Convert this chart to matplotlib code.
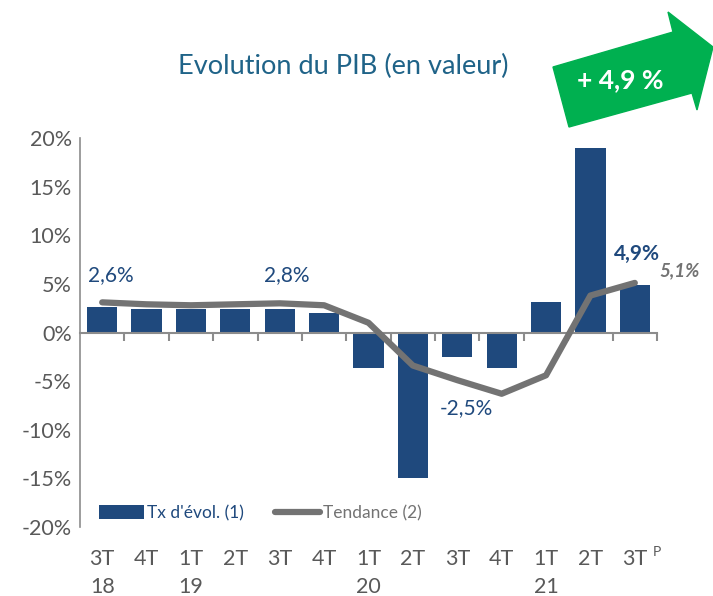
import matplotlib.pyplot as plt
from matplotlib.patches import Polygon
import numpy as np

plt.rcParams['font.family'] = ['Lato', 'DejaVu Sans']

quarters = ["3T", "4T", "1T", "2T", "3T", "4T", "1T", "2T", "3T", "4T", "1T", "2T", "3T"]
years = ["18", "", "19", "", "", "", "20", "", "", "", "21", "", ""]
tx_evol = [2.6, 2.4, 2.4, 2.4, 2.4, 2.0, -3.7, -15.0, -2.5, -3.6, 3.1, 19.0, 4.9]
tendance = [3.1, 2.9, 2.8, 2.9, 3.0, 2.8, 1.0, -3.4, -4.9, -6.3, -4.4, 3.8, 5.1]

blue = "#1f497d"
grey = "#737373"
text_grey = "#595959"

fig = plt.figure(figsize=(7.13, 5.96), dpi=100)
ax = fig.add_axes([80 / 713, 1 - 527 / 596, 577 / 713, 389 / 596])

x = np.arange(len(quarters))
bars = ax.bar(x, tx_evol, width=0.68, color=blue, zorder=2)
line, = ax.plot(x, tendance, color=grey, lw=4.5, solid_capstyle='round',
                solid_joinstyle='round', zorder=3)

ax.set_xlim(-0.5, len(quarters) - 0.5)
ax.set_ylim(-20, 20)
ax.set_yticks(np.arange(-20, 21, 5))
ax.set_yticklabels([f"{v}%" for v in range(-20, 21, 5)], fontsize=15.5, color=text_grey)
ax.tick_params(axis='y', length=0, pad=6)

for s in ['top', 'right']:
    ax.spines[s].set_visible(False)
ax.spines['left'].set_color("#8c8c8c")
ax.spines['left'].set_linewidth(1.2)
ax.spines['bottom'].set_position(('data', 0))
ax.spines['bottom'].set_color("#8c8c8c")
ax.spines['bottom'].set_linewidth(1.5)
ax.set_xticks(np.arange(0.5, len(quarters), 1.0))
ax.set_xticklabels([])
ax.tick_params(axis='x', direction='out', length=6, width=1.5, color="#8c8c8c")

# category labels below the plot
for i, (q, yr) in enumerate(zip(quarters, years)):
    ax.text(i, -23.3, q, ha='center', va='center', fontsize=15.5, color=text_grey)
    if yr:
        ax.text(i, -26.2, yr, ha='center', va='center', fontsize=15.5, color=text_grey)
ax.text(12.5, -22.6, "P", ha='center', va='center', fontsize=10, color=text_grey)

# data labels
ax.text(0.2, 5.9, "2,6%", ha='center', va='center', fontsize=15, color=blue)
ax.text(4.15, 5.9, "2,8%", ha='center', va='center', fontsize=15, color=blue)
ax.text(8.2, -7.8, "-2,5%", ha='center', va='center', fontsize=15, color=blue)
ax.text(12.05, 8.1, "4,9%", ha='center', va='center', fontsize=15, color=blue, fontweight='bold')
ax.text(13.0, 6.3, "5,1%", ha='center', va='center', fontsize=13.5, color=grey,
        fontweight='bold', fontstyle='italic', clip_on=False)

leg = ax.legend([bars, line], ["Tx d'évol. (1)", "Tendance (2)"], loc='lower left',
                bbox_to_anchor=(0.006, -0.025), ncol=2, frameon=False,
                fontsize=12.5, handlelength=2.6, handleheight=0.9, handletextpad=0.15,
                columnspacing=1.8)
for txt, c in zip(leg.get_texts(), [blue, grey]):
    txt.set_color(c)

fig.text(343 / 713, 1 - 66 / 596, "Evolution du PIB (en valeur)", ha='center', va='center',
         fontsize=19.5, color="#1f6388")

# green arrow
arrow_pts = [(553, 67), (673, 32), (668, 12), (713, 47), (697, 110), (692, 93), (569, 127)]
arrow = Polygon([(px / 713, 1 - py / 596) for px, py in arrow_pts], closed=True,
                transform=fig.transFigure, color="#00b050", zorder=5)
fig.patches.append(arrow)
fig.text(620 / 713, 1 - 80 / 596, "+ 4,9 %", ha='center', va='center', fontsize=19,
         color='white', fontweight='bold', zorder=6)

fig.savefig("out.png", dpi=100)
